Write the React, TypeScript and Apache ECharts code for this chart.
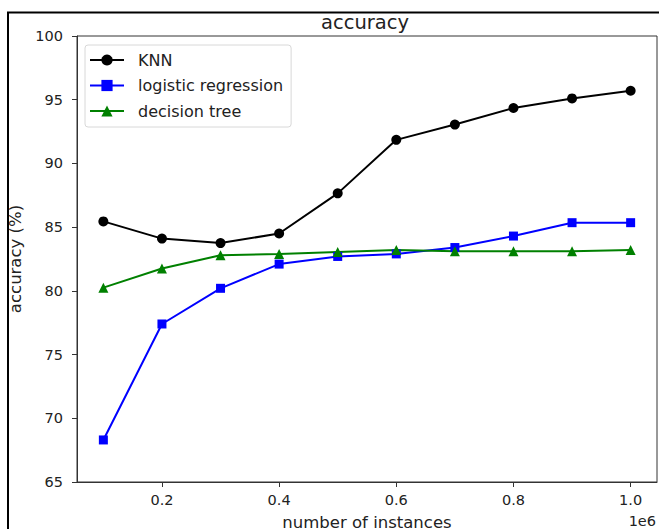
import React, { useEffect, useRef } from "react";
import * as echarts from "echarts";

const xValues = [100000, 200000, 300000, 400000, 500000, 600000, 700000, 800000, 900000, 1000000];
const knn = [85.45, 84.1, 83.75, 84.5, 87.65, 91.85, 93.05, 94.35, 95.1, 95.7];
const logistic = [68.3, 77.4, 80.2, 82.1, 82.7, 82.9, 83.4, 84.3, 85.35, 85.35];
const tree = [80.25, 81.75, 82.8, 82.9, 83.05, 83.2, 83.1, 83.1, 83.1, 83.2];
const xTicks = [200000, 400000, 600000, 800000, 1000000];
const seriesNames = ["KNN", "logistic regression", "decision tree"];

const FONT = "DejaVu Sans";

export default function App() {
  const ref = useRef<HTMLDivElement>(null);
  useEffect(() => {
    if (!ref.current) return;
    const chart = echarts.init(ref.current, undefined, { renderer: "svg" });
    const pair = (arr: number[]) => xValues.map((x, i) => [x, arr[i]]);
    chart.setOption({
      animation: false,
      backgroundColor: "#fff",
      title: {
        text: "accuracy",
        left: 365,
        textAlign: "center",
        top: 12,
        padding: 0,
        textStyle: { fontFamily: FONT, fontSize: 19.5, fontWeight: "normal", color: "#222" },
      },
      legend: {
        data: seriesNames,
        orient: "vertical",
        left: 85,
        top: 45,
        padding: [7, 8, 8, 4],
        itemWidth: 34,
        itemHeight: 14,
        itemGap: 9.5,
        backgroundColor: "#fff",
        borderColor: "#d8d8d8",
        borderWidth: 1,
        borderRadius: 3,
        textStyle: { fontFamily: FONT, fontSize: 16, color: "#222", padding: [0, 0, 0, 9] },
      },
      grid: {
        left: 77,
        right: 2,
        top: 36,
        bottom: 47,
        outerBoundsMode: "none",
        containLabel: false,
        show: true,
        borderColor: "#333",
        borderWidth: 1,
        backgroundColor: "#fff",
      },
      xAxis: {
        type: "value",
        min: 55000,
        max: 1045000,
        name: "number of instances",
        nameLocation: "middle",
        nameGap: 32,
        nameTextStyle: { fontFamily: FONT, fontSize: 16.5, color: "#222" },
        axisLine: { show: true, lineStyle: { color: "#333", width: 1 } },
        axisTick: { show: true, length: 5, customValues: xTicks, lineStyle: { color: "#333" } },
        axisLabel: {
          customValues: xTicks,
          formatter: (v: number) => (v / 1e6).toFixed(1),
          margin: 10,
          fontFamily: FONT,
          fontSize: 14.5,
          color: "#222",
        },
        splitLine: { show: false },
      },
      yAxis: {
        type: "value",
        min: 65,
        max: 100,
        interval: 5,
        name: "accuracy (%)",
        nameLocation: "middle",
        nameGap: 49,
        nameTextStyle: { fontFamily: FONT, fontSize: 16.5, color: "#222" },
        axisLine: { show: true, lineStyle: { color: "#333", width: 1 } },
        axisTick: { show: true, length: 5, lineStyle: { color: "#333" } },
        axisLabel: { margin: 14, fontFamily: FONT, fontSize: 14.5, color: "#222" },
        splitLine: { show: false },
      },
      graphic: [
        {
          type: "text",
          right: 3,
          top: 513,
          style: { text: "1e6", fontFamily: FONT, fontSize: 14.5, fill: "#222" },
        },
        {
          type: "rect",
          z: 100,
          shape: { x: 8, y: 12.5, width: 700, height: 600 },
          style: { fill: "none", stroke: "#000", lineWidth: 2 },
        },
      ],
      series: [
        {
          name: seriesNames[0],
          type: "line",
          data: pair(knn),
          symbol: "circle",
          symbolSize: 10,
          lineStyle: { color: "#000", width: 2 },
          itemStyle: { color: "#000" },
        },
        {
          name: seriesNames[1],
          type: "line",
          data: pair(logistic),
          symbol: "rect",
          symbolSize: 9,
          lineStyle: { color: "#0000ff", width: 2 },
          itemStyle: { color: "#0000ff" },
        },
        {
          name: seriesNames[2],
          type: "line",
          data: pair(tree),
          symbol: "triangle",
          symbolSize: 10,
          lineStyle: { color: "#008000", width: 2 },
          itemStyle: { color: "#008000" },
        },
      ],
    });
    return () => chart.dispose();
  }, []);
  return <div ref={ref} style={{ position: "absolute", left: 0, top: 0, width: 659, height: 529 }} />;
}
